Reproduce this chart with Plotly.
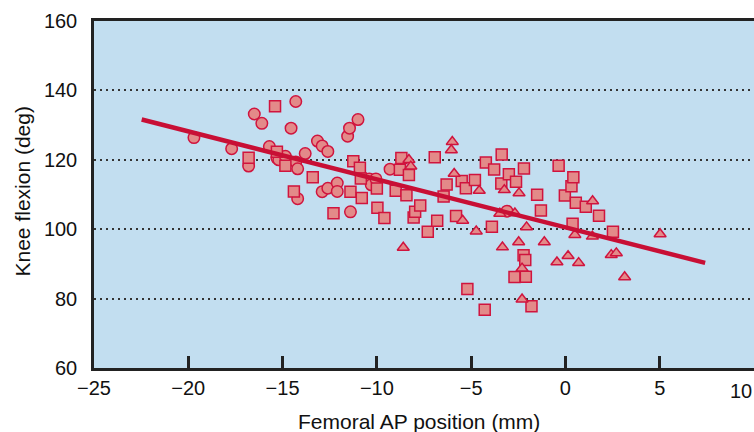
import plotly.graph_objects as go

# --- data ---
circle_x = [-19.7, -17.7, -16.8, -16.5, -16.1, -15.7, -15.3, -15.2, -14.85, -14.55, -14.3,
            -14.3, -14.2, -14.2, -13.8, -13.15, -12.9, -12.6, -12.9, -12.6, -12.1, -12.1,
            -11.55, -11.45, -11.0, -11.4, -10.4, -10.3, -10.05, -9.3, -3.1]
circle_y = [126.4, 123.2, 118.2, 133.2, 130.5, 123.8, 120.5, 120.0, 121.0, 129.1, 136.8,
            119.4, 117.4, 108.8, 121.8, 125.4, 124.0, 122.4, 110.8, 111.8, 113.3, 110.9,
            126.8, 129.1, 131.6, 105.0, 114.5, 112.8, 114.5, 117.3, 105.2]

square_x = [-16.8, -15.4, -15.3, -14.85, -14.4, -13.4, -12.3, -11.4, -11.25, -10.9, -10.85,
            -10.8, -10.0, -9.97, -9.6, -9.0, -8.7, -8.78, -8.43, -8.3, -8.05, -7.97, -7.7,
            -7.3, -6.93, -6.8, -6.46, -6.3, -5.8, -5.5, -5.28, -5.2, -4.8, -4.28, -4.22,
            -3.9, -3.78, -3.38, -3.4, -3.0, -2.62, -2.7, -2.2, -2.22, -2.13, -2.1, -1.8,
            -1.5, -1.3, -0.36, -0.03, 0.32, 0.42, 0.38, 0.55, 1.08, 1.78, 2.52]
square_y = [120.6, 135.4, 122.3, 118.3, 110.9, 115.0, 104.6, 110.8, 119.6, 117.7, 114.6,
            109.0, 111.7, 106.2, 103.2, 111.1, 120.5, 117.1, 109.8, 115.6, 103.4, 105.0, 106.8,
            99.3, 120.7, 102.4, 109.4, 112.9, 103.8, 113.9, 111.8, 82.8, 114.2, 76.8, 119.2,
            100.7, 117.2, 121.5, 113.2, 115.8, 113.7, 86.2, 117.5, 92.5, 91.1, 86.3, 77.8,
            109.9, 105.4, 118.3, 109.7, 112.4, 115.0, 101.6, 107.6, 106.5, 103.9, 99.3]

triangle_x = [-8.6, -8.3, -8.2, -6.0, -6.05, -5.9, -5.45, -4.73, -4.57, -3.48, -3.34, -3.24,
              -2.68, -2.46, -2.48, -2.06, -2.3, -2.3, -1.12, -0.45, 0.14, 0.5, 0.7, 1.44,
              1.43, 2.43, 2.7, 3.14, 5.02]
triangle_y = [94.7, 120.0, 118.1, 125.2, 122.8, 116.0, 102.5, 99.4, 111.1, 104.5, 94.8, 111.3,
              104.6, 110.4, 96.3, 100.6, 88.7, 79.8, 96.3, 90.5, 92.3, 98.4, 90.3, 108.1,
              97.9, 92.6, 93.1, 86.2, 98.6]

# regression line end points
fit_x = [-22.47, 7.41]
fit_y = [131.6, 90.3]

fill = "#E38A89"
edge = "#D0143E"
line_red = "#C80F35"
font = "Liberation Sans, Arial, sans-serif"

fig = go.Figure()

for xs, ys, sym, size in [(circle_x, circle_y, "circle", 11.5),
                          (square_x, square_y, "square", 11),
                          (triangle_x, triangle_y, "triangle-up", 10.5)]:
    fig.add_trace(go.Scatter(x=xs, y=ys, mode="markers",
                             marker=dict(symbol=sym, size=size, color=fill,
                                         line=dict(color=edge, width=1.5))))

fig.add_trace(go.Scatter(x=fit_x, y=fit_y, mode="lines",
                         line=dict(color=line_red, width=4.5)))

fig.update_layout(
    width=754, height=432,
    margin=dict(l=94, r=0, t=21, b=64),
    paper_bgcolor="white",
    plot_bgcolor="#C2DEF0",
    showlegend=False,
    font=dict(family=font, color="#111", size=20),
    xaxis=dict(
        range=[-25, 10], tickmode="array", tickvals=[-25, -20, -15, -10, -5, 0, 5],
        ticks="inside", ticklen=12, tickwidth=2.5, tickcolor="#222",
        showgrid=False, zeroline=False, automargin=False,
        showline=True, linecolor="#222", linewidth=2.5, mirror=True,
    ),
    yaxis=dict(
        range=[60, 160], tickvals=[60, 80, 100, 120, 140, 160],
        ticks="", showgrid=True, gridcolor="#333", gridwidth=2, griddash="2px,4px",
        zeroline=False, showline=True, linecolor="#222", linewidth=2.5,
        automargin=False, ticklabelstandoff=10,
    ),
)

# last x label sits inside the page edge in the reference
fig.add_annotation(x=10, y=60, xref="x", yref="y", text="10", showarrow=False,
                   xanchor="right", yanchor="top", yshift=-10, font=dict(size=20))

# axis titles
fig.add_annotation(x=0.5, y=0, xref="paper", yref="paper", text="Femoral AP position (mm)",
                   showarrow=False, xanchor="center", yanchor="top", yshift=-40,
                   xshift=-5, font=dict(size=21))
fig.add_annotation(x=0, y=0.5, xref="paper", yref="paper", text="Knee flexion (deg)",
                   showarrow=False, textangle=-90, xanchor="center", yanchor="middle",
                   xshift=-72, yshift=3, font=dict(size=21))

# drop the default page margin so the figure fills the window
fig.write_html("out.html", config={"displayModeBar": False},
               post_script="document.body.style.margin='0';")
